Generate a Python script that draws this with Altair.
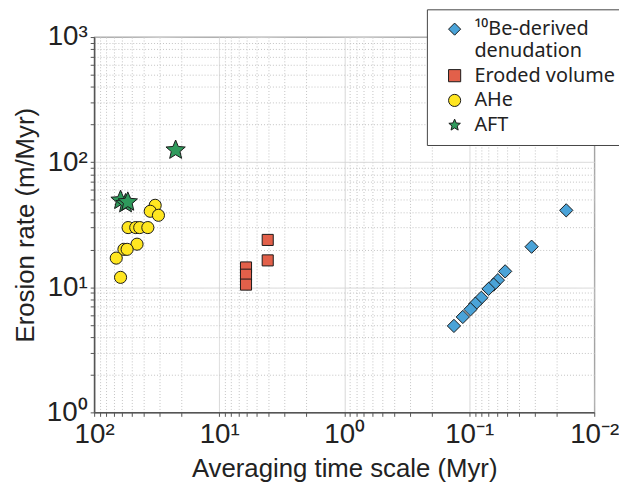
import math
import altair as alt
import pandas as pd

series = ["¹⁰Be-derived denudation", "Eroded volume", "AHe", "AFT"]
colors = ["#4aa3d8", "#e2604a", "#ffe620", "#2f9a5c"]
STAR = ("M0,-1L0.264,-0.364L0.951,-0.309L0.428,0.139L0.588,0.809L0,0.45"
        "L-0.588,0.809L-0.428,0.139L-0.951,-0.309L-0.264,-0.364Z")
shapes = ["diamond", "square", "circle", STAR]
sizes = [180, 125, 150, 420]

be_time = [0.01675, 0.0317, 0.0516, 0.0590, 0.0638, 0.0700, 0.0800, 0.0892, 0.0977, 0.1125, 0.1325]
be_rate = [41.2, 21.1, 13.4, 11.4, 10.5, 9.71, 8.24, 7.39, 6.66, 5.79, 4.91]

ev_time = [4.09, 4.09, 6.1, 6.1, 6.1]
ev_rate = [23.9, 16.4, 14.4, 12.6, 10.5]

ahe_time = [32.5, 35.6, 30.6, 53.5, 46.5, 43.2, 37.2, 45.4, 57.8, 54.5, 66.6, 61.5]
ahe_rate = [45.2, 40.5, 37.6, 30.0, 30.0, 30.0, 30.0, 22.1, 20.1, 20.1, 17.1, 12.0]

aft_time = [22.3, 61.5, 56.1, 53.8]
aft_rate = [124.7, 49.5, 46.6, 48.0]

x_major = [100, 10, 1, 0.1, 0.01]
x_major_labels = ["10²", "10¹", "10⁰", "10⁻¹", "10⁻²"]
y_major = [1, 10, 100, 1000]
y_major_labels = ["10⁰", "10¹", "10²", "10³"]

rows = []
for name, xs, ys in [(series[0], be_time, be_rate), (series[1], ev_time, ev_rate),
                     (series[2], ahe_time, ahe_rate), (series[3], aft_time, aft_rate)]:
    for a, b in zip(xs, ys):
        rows.append({"series": name, "time": a, "rate": b})
df = pd.DataFrame(rows)


def decade_values(lo, hi):
    vals = []
    for k in range(lo, hi):
        for m in range(1, 10):
            vals.append(round(m * 10 ** k, 6))
    vals.append(round(10 ** hi, 6))
    return vals


x_vals = decade_values(-2, 2)
y_vals = decade_values(0, 3)

is_major = "abs(log(datum.value)/LN10 - round(log(datum.value)/LN10)) < 0.001"


def lab_expr(vals, labs):
    e = "''"
    for v, l in zip(vals, labs):
        e = f"abs(log(datum.value)/LN10 - ({math.log10(v)})) < 0.001 ? '{l}' : " + e
    return e


FONT = "Liberation Sans"


def make_axis(vals, major, labs, title, pad):
    return alt.Axis(
        values=vals,
        labelExpr=lab_expr(major, labs),
        title=title,
        grid=True,
        gridDash={"condition": {"test": is_major, "value": [1, 0]}, "value": [1, 2]},
        gridColor={"condition": {"test": is_major, "value": "#d6d6d6"}, "value": "#c2c2c2"},
        tickSize=4,
        tickColor="#555", domainColor="#555", domainWidth=1.5,
        labelOverlap=False, labelFlush=False, labelPadding=pad,
        labelFont=FONT, labelFontSize=28, labelColor="#222",
        titleFont=FONT, titleFontSize=26, titleFontWeight="normal", titleColor="#222",
        titlePadding=8,
    )


legend = alt.Legend(
    orient="none", legendX=336, legendY=-28, title=None,
    labelFont="Noto Sans", labelFontSize=20, labelColor="#222",
    labelExpr="datum.label == '¹⁰Be-derived denudation' ? ['¹⁰Be-derived', 'denudation'] : datum.label",
    fillColor="white", strokeColor="#444", padding=10,
    symbolStrokeColor="#1a1a1a", symbolStrokeWidth=1, symbolOffset=8, symbolSize=150,
    rowPadding=5, labelOffset=10, labelLimit=300,
)

x_enc = alt.X("time:Q",
              scale=alt.Scale(type="log", domain=[0.01, 100], reverse=True, nice=False),
              axis=make_axis(x_vals, x_major, x_major_labels, "Averaging time scale (Myr)", 4))
y_enc = alt.Y("rate:Q",
              scale=alt.Scale(type="log", domain=[1, 1000], nice=False),
              axis=make_axis(y_vals, y_major, y_major_labels, "Erosion rate (m/Myr)", 3))
c_enc = alt.Color("series:N", scale=alt.Scale(domain=series, range=colors), legend=legend)
s_enc = alt.Shape("series:N", scale=alt.Scale(domain=series, range=shapes), legend=legend)

layers = []
for name, sz in zip(series, sizes):
    layers.append(
        alt.Chart(df).transform_filter(alt.datum.series == name)
        .mark_point(filled=True, stroke="#1a1a1a", strokeWidth=1, opacity=1, size=sz)
        .encode(x=x_enc, y=y_enc, color=c_enc, shape=s_enc)
    )

chart = alt.layer(*layers).properties(
    width=505, height=379,
    autosize=alt.AutoSizeParams(type="none"),
    padding={"left": 87, "top": 27, "right": 25, "bottom": 70},
).configure_view(stroke="#555", strokeWidth=1.2)

chart.save("out.html", embed_options={"renderer": "svg", "actions": False})
